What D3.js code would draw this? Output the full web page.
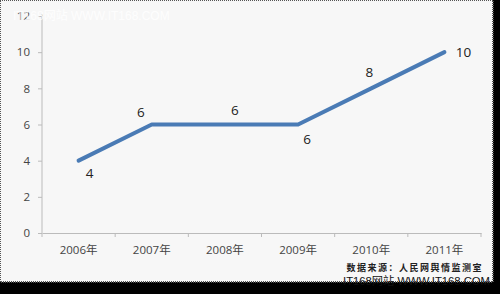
<!DOCTYPE html>
<html>
<head>
<meta charset="utf-8">
<script src="https://cdn.jsdelivr.net/npm/d3@7"></script>
<style>
  body { margin: 0; background: #000; }
  svg { display: block; }
</style>
</head>
<body>
<div id="chart"></div>
<script>
var years = ["2006年", "2007年", "2008年", "2009年", "2010年", "2011年"];
var values = [4, 6, 6, 6, 8, 10];
var yTicks = [0, 2, 4, 6, 8, 10, 12];
// where each value label sits relative to its point
var labelOffsets = [[11, 17], [-11, -8], [10, -10], [9, 19], [-2, -11], [19, 5]];

var width = 500, height = 294;
var margin = {left: 42, right: 19, top: 16, bottom: 61};

var svg = d3.select("#chart").append("svg")
  .attr("width", width)
  .attr("height", height);

// frame: light panel with dark shadow at right/bottom
svg.append("rect")
  .attr("x", 0).attr("y", 0)
  .attr("width", 493).attr("height", 282)
  .attr("fill", "#f7f7f7")
  .attr("stroke", "#555")
  .attr("stroke-width", 2)
  .attr("stroke-dasharray", "1,1");

var x = d3.scaleBand()
  .domain(years)
  .range([margin.left, width - margin.right]);

var y = d3.scaleLinear()
  .domain([0, 12])
  .range([height - margin.bottom, margin.top]);

// y axis
var yAxis = svg.append("g")
  .attr("transform", "translate(" + margin.left + ",0)")
  .call(d3.axisLeft(y).tickValues(yTicks).tickSize(4).tickPadding(8));

// x axis
var xAxis = svg.append("g")
  .attr("transform", "translate(0," + y(0) + ")")
  .call(d3.axisBottom(x).tickSize(0).tickPadding(13));

// x ticks at band edges
var edges = years.map(function(d) { return x(d); }).concat([x.range()[1]]);
xAxis.selectAll("line.edge")
  .data(edges)
  .enter().append("line")
  .attr("class", "edge")
  .attr("x1", function(d) { return d; })
  .attr("x2", function(d) { return d; })
  .attr("y1", 0).attr("y2", 4)
  .attr("stroke", "#bbb");

[yAxis, xAxis].forEach(function(a) {
  a.select(".domain").attr("stroke", "#bbb");
  a.selectAll(".tick line").attr("stroke", "#bbb");
  a.selectAll("text")
    .attr("fill", "#444")
    .style("font-family", "'Open Sans', 'Noto Sans CJK SC', sans-serif")
    .style("font-size", "11.5px");
});
yAxis.select(".domain").attr("d", "M0," + y(0) + "V" + (y(12) - 2));

var line = d3.line()
  .x(function(d, i) { return x(years[i]) + x.bandwidth() / 2; })
  .y(function(d) { return y(d); });

svg.append("path")
  .datum(values)
  .attr("d", line)
  .attr("fill", "none")
  .attr("stroke", "#4a7bb5")
  .attr("stroke-width", 4)
  .attr("stroke-linecap", "round")
  .attr("stroke-linejoin", "round");

svg.selectAll("text.val")
  .data(values)
  .enter().append("text")
  .attr("class", "val")
  .attr("x", function(d, i) { return x(years[i]) + x.bandwidth() / 2 + labelOffsets[i][0]; })
  .attr("y", function(d, i) { return y(d) + labelOffsets[i][1]; })
  .attr("text-anchor", "middle")
  .attr("fill", "#222")
  .style("font-family", "'Open Sans', sans-serif")
  .style("font-size", "13.5px")
  .text(function(d) { return d; });

// watermarks and source
svg.append("text")
  .attr("x", 13).attr("y", 20)
  .attr("fill", "#fff")
  .attr("fill-opacity", 0.85)
  .style("font-family", "'Liberation Sans', 'Noto Sans CJK SC', sans-serif")
  .style("font-size", "12px")
  .text("IT168网站  WWW.IT168.COM");

svg.append("text")
  .attr("x", 483).attr("y", 271)
  .attr("text-anchor", "end")
  .attr("fill", "#222")
  .style("font-family", "'Noto Sans CJK SC', sans-serif")
  .style("font-size", "9px")
  .style("font-weight", "bold")
  .style("letter-spacing", "1.5px")
  .text("数据来源：人民网舆情监测室");

svg.append("text")
  .attr("x", 343).attr("y", 285)
  .attr("fill", "#111")
  .attr("textLength", 147)
  .attr("lengthAdjust", "spacingAndGlyphs")
  .style("font-family", "'Liberation Sans', 'Noto Sans CJK SC', sans-serif")
  .style("font-size", "11.5px")
  .text("IT168网站  WWW.IT168.COM");
</script>
</body>
</html>
